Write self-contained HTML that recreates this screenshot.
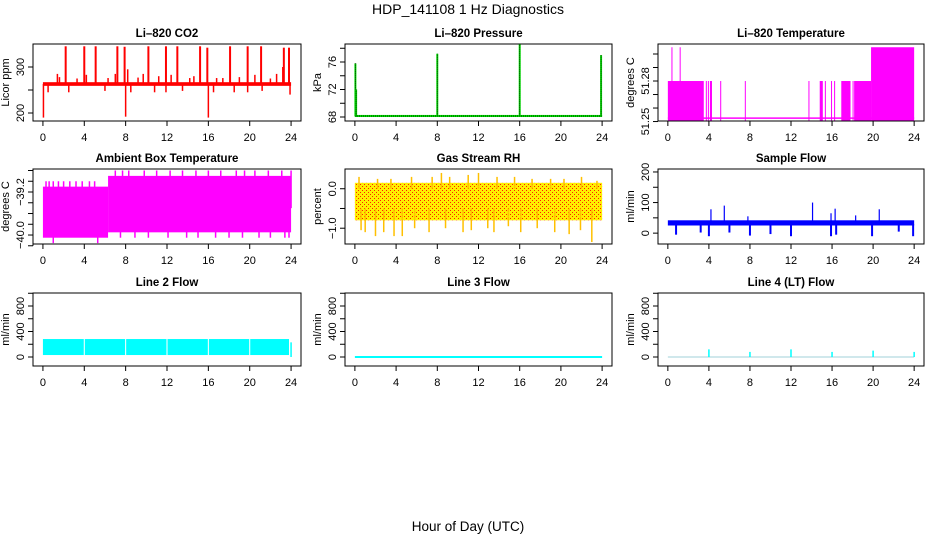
<!DOCTYPE html>
<html><head><meta charset="utf-8"><style>
html,body{margin:0;padding:0;background:#fff}
svg{display:block;font-family:"Liberation Sans",Arial,sans-serif}
</style></head><body>
<svg id="c" width="936" height="540" viewBox="0 0 936 540">
<defs>
<pattern id="rhdots" width="4" height="4" patternUnits="userSpaceOnUse"><rect width="4" height="4" fill="#ffee00"/><rect width="1" height="1" fill="#ff2000"/><rect x="2" y="2" width="1" height="1" fill="#ff2000"/></pattern>
</defs>
<text x="468" y="14" font-size="14" text-anchor="middle">HDP_141108  1 Hz Diagnostics</text>
<text x="468" y="531" font-size="13.5" text-anchor="middle">Hour of Day (UTC)</text>
</svg>
<script>
// ---- shared axis data
const xTicks = [0,4,8,12,16,20,24];
// ---- CO2
const co2Base = [259,267];
const co2SpikeHours = [2.2,4.0,5.1,7.2,7.9,10.2,11.9,13.0,15.2,15.9,18.1,19.8,21.1,23.3,23.8];
const co2SpikeVals  = [345,345,345,345,344,345,345,345,345,342,345,345,345,342,342];
const co2DipHours = [0.05,8.0,16.0,0.5,2.5,6.0,8.5,10.8,11.9,13.5,16.5,18.5,19.8,21.2,23.9];
const co2DipVals  = [190,192,190,245,245,248,245,245,245,248,245,245,245,248,240];
const co2BlipHours = [1.4,1.6,3.3,4.2,6.3,7.0,8.2,9.2,9.7,11.2,12.4,14.2,14.6,16.8,17.4,19.0,20.5,22.0,22.6,23.2];
const co2BlipVals  = [285,278,275,283,276,285,295,277,285,280,283,276,280,276,276,278,283,275,285,300];
// ---- Pressure
const presBase = [68.0,68.3];
const presSpikeHours = [0.05,0.12,8.0,16.0,23.9];
const presSpikeVals  = [75.8,72.0,77.2,78.6,77.0];
// ---- Li-820 temperature
const tempSegStart = [0.0,3.7,3.9,4.1,5.1,7.5,13.7,14.8,15.3,15.9,16.2,16.9,18.0,18.15,19.8];
const tempSegEnd   = [3.5,3.75,3.95,4.3,5.2,7.55,13.75,15.1,15.35,15.95,16.25,17.8,18.05,19.8,24.0];
const tempSegVal   = [51.28,51.28,51.28,51.28,51.28,51.28,51.28,51.28,51.28,51.28,51.28,51.28,51.28,51.28,51.305];
const tempSpikeHours = [0.4,1.2];
const tempSpikeVals  = [51.305,51.305];
const tempLow = 51.2525;
// ---- Ambient box temperature
const ambSegStart = [0.0,6.3];
const ambSegEnd   = [6.3,24.0];
const ambSegLo    = [-40.05,-39.95];
const ambSegHi    = [-39.1,-38.9];
const ambUpHours = [0.3,0.6,1.0,1.5,2.0,2.6,3.2,3.8,4.5,5.0,7.0,7.7,8.3,9.8,11.0,12.3,13.5,14.8,16.0,17.2,18.7,19.5,20.5,21.8,23.1,24.0];
const ambUpVals  = [-39.0,-39.0,-39.0,-39.0,-39.0,-39.0,-39.0,-39.0,-39.0,-39.0,-38.8,-38.8,-38.8,-38.8,-38.8,-38.8,-38.8,-38.8,-38.8,-38.8,-38.8,-38.8,-38.8,-38.8,-38.8,-38.8];
const ambDnHours = [1.0,5.3,7.5,8.9,10.2,12.1,13.9,15.0,16.7,18.0,19.3,20.9,22.0,23.4,23.8];
const ambDnVals  = [-40.15,-40.15,-40.05,-40.05,-40.05,-40.05,-40.05,-40.05,-40.05,-40.05,-40.05,-40.05,-40.05,-40.05,-40.05];
// ---- Gas stream RH
const rhBand = [-0.8,0.15];
const rhUpHours = [0.4,2.2,3.5,5.5,7.5,8.4,9.2,11.0,12.0,13.8,15.5,17.2,19.0,20.3,22.0,23.5];
const rhUpVals  = [0.3,0.25,0.25,0.3,0.3,0.4,0.3,0.35,0.4,0.3,0.3,0.25,0.25,0.25,0.3,0.2];
const rhDnHours = [0.6,1.0,2.0,2.8,3.8,4.6,5.8,7.2,8.8,10.5,11.3,12.9,13.5,14.9,16.1,17.7,19.4,20.8,21.9,23.0];
const rhDnVals  = [-1.05,-1.1,-1.2,-1.1,-1.2,-1.2,-1.0,-1.1,-1.0,-1.1,-1.05,-1.0,-1.1,-0.95,-1.1,-1.0,-1.1,-1.15,-1.05,-1.35];
// ---- Sample flow
const sfBand = [25,42];
const sfSpikeHours = [4.2,5.5,7.8,14.1,15.9,16.3,18.3,20.6];
const sfSpikeVals  = [78,90,55,100,65,80,58,78];
const sfDipHours = [0.8,3.2,4.0,6.0,8.0,10.0,12.0,15.9,16.4,19.9,22.5,23.9];
const sfDipVals  = [-5,2,-10,2,-8,-3,-10,-10,-5,-10,5,-10];
// ---- Line 2 flow
const l2SegStart = [0.0,4.05,8.05,12.05,16.05,20.05];
const l2SegEnd   = [3.95,7.95,11.95,15.95,19.95,23.8];
const l2Lo = 31, l2Hi = 282;
// ---- Line 3 flow
const l3Level = [0,0];
// ---- Line 4 flow
const l4SpikeHours = [4.0,8.0,12.0,16.0,20.0,24.0];
const l4SpikeVals  = [120,80,120,80,100,80];

const svg = document.getElementById('c');
const NS = 'http://www.w3.org/2000/svg';
function mk(tag, attrs, parent){ const e=document.createElementNS(NS,tag); for(const k in attrs) e.setAttribute(k,attrs[k]); (parent||svg).appendChild(e); return e; }

function panel(cfg){
  const g = mk('g',{});
  
  
  const W = cfg.x1-cfg.x0;
  const X = h => cfg.x0 + W*(h+0.96)/25.92;
  const Y = v => cfg.y1 - (v-cfg.ymin)/(cfg.ymax-cfg.ymin)*(cfg.y1-cfg.y0);
  const data = mk('g',{},g);
  
  
  cfg.draw(data, X, Y);
  const box = mk('rect',{x:cfg.x0,y:cfg.y0,width:W,height:cfg.y1-cfg.y0,fill:'none',stroke:'#000','stroke-width':1},g);
  
  
  const t = mk('text',{x:(cfg.x0+cfg.x1)/2,y:cfg.y0-7,'font-size':11.5,'font-weight':'bold','text-anchor':'middle'},g);
  t.textContent = cfg.title;
  
  
  const xa = mk('g',{},g);
  
  
  mk('line',{x1:X(xTicks[0]),x2:X(xTicks[xTicks.length-1]),y1:cfg.y1,y2:cfg.y1,stroke:'#000'},xa);
  xTicks.forEach(h=>{
    mk('line',{x1:X(h),x2:X(h),y1:cfg.y1,y2:cfg.y1+5,stroke:'#000'},xa);
    const l = mk('text',{x:X(h),y:cfg.y1+20,'font-size':11,'text-anchor':'middle'},xa);
    l.textContent = h;
  });
  const ya = mk('g',{},g);
  
  
  const tk = cfg.yTicks;
  mk('line',{x1:cfg.x0,x2:cfg.x0,y1:Y(tk[0]),y2:Y(tk[tk.length-1]),stroke:'#000'},ya);
  tk.forEach(v=>{ mk('line',{x1:cfg.x0-5,x2:cfg.x0,y1:Y(v),y2:Y(v),stroke:'#000'},ya); });
  cfg.yLabels.forEach(v=>{
    const x = cfg.x0-9, y = Y(v);
    const l = mk('text',{x:x,y:y,'font-size':11,'text-anchor':'middle',transform:`rotate(-90 ${x} ${y})`},ya);
    l.textContent = cfg.fmt ? cfg.fmt(v) : v;
  });
  const yl = mk('text',{x:cfg.x0-24,y:(cfg.y0+cfg.y1)/2,'font-size':11,'text-anchor':'middle',transform:`rotate(-90 ${cfg.x0-24} ${(cfg.y0+cfg.y1)/2})`},g);
  yl.textContent = cfg.ylab;
  
  
}
function vline(p,X,Y,h,a,b,col,w){ return mk('line',{x1:X(h),x2:X(h),y1:Y(a),y2:Y(b),stroke:col,'stroke-width':w||1},p); }
function band(p,X,Y,h0,h1,a,b,fill){ return mk('rect',{x:X(h0),y:Y(b),width:Math.max(1,X(h1)-X(h0)),height:Math.max(1,Y(a)-Y(b)),fill:fill},p); }

const C1=[33,301], C2=[345,612], C3=[658,924];
const R1=[44,121], R2=[169,244], R3=[293,366];

panel({name:'co2-panel',title:'Li\u2013820 CO2',ylab:'Licor ppm',x0:C1[0],x1:C1[1],y0:R1[0],y1:R1[1],ymin:182.6,ymax:350,yTicks:[200,250,300],yLabels:[200,300],
 draw:(p,X,Y)=>{
  band(p,X,Y,0,24,co2Base[0],co2Base[1],'#ff0000');
  co2SpikeHours.forEach((h,i)=>{vline(p,X,Y,h,263,co2SpikeVals[i],'#ff0000',2);});
  co2DipHours.forEach((h,i)=>{vline(p,X,Y,h,263,co2DipVals[i],'#ff0000',1.5);});
  co2BlipHours.forEach((h,i)=>{vline(p,X,Y,h,263,co2BlipVals[i],'#ff0000',1.5);});
 }});
panel({name:'pressure-panel',title:'Li\u2013820 Pressure',ylab:'kPa',x0:C2[0],x1:C2[1],y0:R1[0],y1:R1[1],ymin:67.42,ymax:78.62,yTicks:[68,70,72,74,76,78],yLabels:[68,72,76],
 draw:(p,X,Y)=>{
  band(p,X,Y,0,24,presBase[0],presBase[1],'#00ee00');
  mk('line',{x1:X(0),x2:X(24),y1:Y(68.15),y2:Y(68.15),stroke:'#000','stroke-dasharray':'1 1'},p);
  presSpikeHours.forEach((h,i)=>{vline(p,X,Y,h,68.1,presSpikeVals[i],'#00ee00',2); mk('line',{x1:X(h),x2:X(h),y1:Y(68.1),y2:Y(presSpikeVals[i]),stroke:'#000','stroke-dasharray':'1 1'},p);});
 }});
panel({name:'li820-temperature-panel',title:'Li\u2013820 Temperature',ylab:'degrees C',x0:C3[0],x1:C3[1],y0:R1[0],y1:R1[1],ymin:51.2504,ymax:51.3074,yTicks:[51.25,51.26,51.27,51.28,51.29,51.30],yLabels:[51.25,51.28],fmt:v=>v.toFixed(2),
 draw:(p,X,Y)=>{
  mk('line',{x1:X(0),x2:X(24),y1:Y(tempLow),y2:Y(tempLow),stroke:'#ff00ff','stroke-width':1.5},p);
  tempSegStart.forEach((s,i)=>{band(p,X,Y,s,tempSegEnd[i],51.2505,tempSegVal[i],'#ff00ff');});
  tempSpikeHours.forEach((h,i)=>{vline(p,X,Y,h,51.26,tempSpikeVals[i],'#ff00ff',1);});
 }});
panel({name:'ambient-temperature-panel',title:'Ambient Box Temperature',ylab:'degrees C',x0:C1[0],x1:C1[1],y0:R2[0],y1:R2[1],ymin:-40.167,ymax:-38.772,yTicks:[-40.2,-40.0,-39.8,-39.6,-39.4,-39.2,-39.0,-38.8],yLabels:[-40.0,-39.2],fmt:v=>v.toFixed(1).replace('-','\u2212'),
 draw:(p,X,Y)=>{
  ambSegStart.forEach((s,i)=>{band(p,X,Y,s,ambSegEnd[i],ambSegLo[i],ambSegHi[i],'#ff00ff');});
  ambUpHours.forEach((h,i)=>{vline(p,X,Y,h,-39.5,ambUpVals[i],'#ff00ff',1.5);});
  ambDnHours.forEach((h,i)=>{vline(p,X,Y,h,-39.5,ambDnVals[i],'#ff00ff',1.5);});
 }});
panel({name:'rh-panel',title:'Gas Stream RH',ylab:'percent',x0:C2[0],x1:C2[1],y0:R2[0],y1:R2[1],ymin:-1.4,ymax:0.5,yTicks:[-1.0,-0.5,0.0],yLabels:[-1.0,0.0],fmt:v=>v.toFixed(1).replace('-','\u2212'),
 draw:(p,X,Y)=>{
  band(p,X,Y,0,24,rhBand[0],rhBand[1],'url(#rhdots)');
  rhUpHours.forEach((h,i)=>{vline(p,X,Y,h,0,rhUpVals[i],'#ffc000',1.5);});
  rhDnHours.forEach((h,i)=>{vline(p,X,Y,h,-0.5,rhDnVals[i],'#ffc000',1.5);});
 }});
panel({name:'sample-flow-panel',title:'Sample Flow',ylab:'ml/min',x0:C3[0],x1:C3[1],y0:R2[0],y1:R2[1],ymin:-35.5,ymax:209.7,yTicks:[0,50,100,150,200],yLabels:[0,100,200],
 draw:(p,X,Y)=>{
  band(p,X,Y,0,24,sfBand[0],sfBand[1],'#0000ff');
  sfSpikeHours.forEach((h,i)=>{vline(p,X,Y,h,35,sfSpikeVals[i],'#0000ff',1.2);});
  sfDipHours.forEach((h,i)=>{vline(p,X,Y,h,30,sfDipVals[i],'#0000ff',2);});
 }});
panel({name:'line2-flow-panel',title:'Line 2 Flow',ylab:'ml/min',x0:C1[0],x1:C1[1],y0:R3[0],y1:R3[1],ymin:-141,ymax:1004,yTicks:[0,200,400,600,800,1000],yLabels:[0,400,800],
 draw:(p,X,Y)=>{
  l2SegStart.forEach((s,i)=>{band(p,X,Y,s,l2SegEnd[i],l2Lo,l2Hi,'#00ffff');});
  vline(p,X,Y,24,0,230,'#00ffff',1.5);
 }});
panel({name:'line3-flow-panel',title:'Line 3 Flow',ylab:'ml/min',x0:C2[0],x1:C2[1],y0:R3[0],y1:R3[1],ymin:-141,ymax:1004,yTicks:[0,200,400,600,800,1000],yLabels:[0,400,800],
 draw:(p,X,Y)=>{
  mk('line',{x1:X(0),x2:X(24),y1:Y(l3Level[0]),y2:Y(l3Level[1]),stroke:'#00ffff','stroke-width':2},p);
 }});
panel({name:'line4-flow-panel',title:'Line 4 (LT) Flow',ylab:'ml/min',x0:C3[0],x1:C3[1],y0:R3[0],y1:R3[1],ymin:-141,ymax:1004,yTicks:[0,200,400,600,800,1000],yLabels:[0,400,800],
 draw:(p,X,Y)=>{
  mk('line',{x1:X(0),x2:X(24),y1:Y(0),y2:Y(0),stroke:'#a0d0d8','stroke-width':1},p);
  l4SpikeHours.forEach((h,i)=>{vline(p,X,Y,h,0,l4SpikeVals[i],'#00ffff',1.5);});
 }});
</script>
</body></html>
